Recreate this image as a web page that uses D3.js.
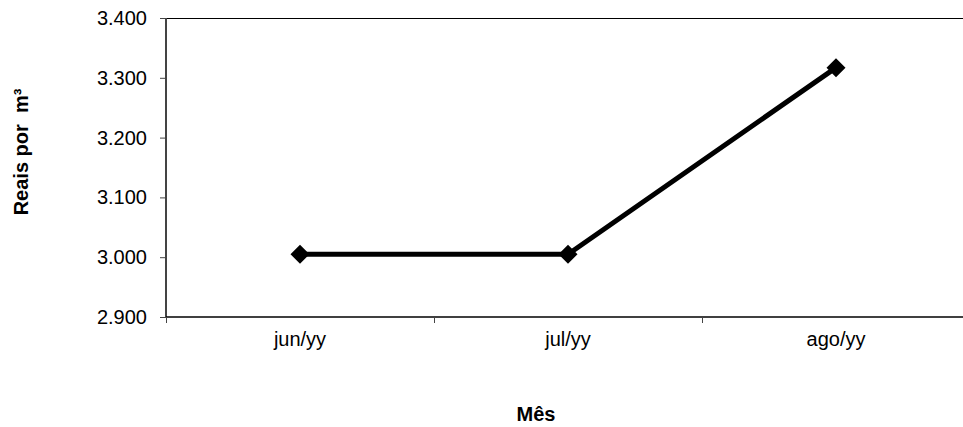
<!DOCTYPE html>
<html>
<head>
<meta charset="utf-8">
<script src="https://cdn.jsdelivr.net/npm/d3@7"></script>
<style>
  html, body { margin: 0; padding: 0; background: #fff; }
  svg { display: block; font-family: "Liberation Sans", Arial, sans-serif; }
</style>
</head>
<body>
<svg id="chart" width="963" height="427"></svg>
<script>
// Monthly price per cubic metre
const months = ["jun/yy", "jul/yy", "ago/yy"];
const prices = [3.005, 3.005, 3.317];
const yTicks = [2.9, 3.0, 3.1, 3.2, 3.3, 3.4];

const svg = d3.select("#chart");
const plot = { left: 166, top: 18, right: 970, bottom: 317 };
const FONT = "Liberation Sans, Arial, sans-serif";

const x = d3.scaleBand().domain(months).range([plot.left, plot.right]).padding(0);
const y = d3.scaleLinear().domain([2.9, 3.4]).range([plot.bottom, plot.top]);

const fmt = d3.format(".3f");

// top frame line
svg.append("line")
  .attr("x1", plot.left).attr("x2", plot.right)
  .attr("y1", plot.top + 0.5).attr("y2", plot.top + 0.5)
  .attr("stroke", "#000").attr("stroke-width", 1);

// y axis
const yAxis = svg.append("g")
  .attr("transform", `translate(${plot.left},0)`)
  .call(d3.axisLeft(y).tickValues(yTicks).tickFormat(fmt).tickSize(6).tickPadding(13));
yAxis.select(".domain").attr("stroke", "#444").attr("stroke-width", 2)
  .attr("d", `M0,${plot.top}V${plot.bottom}`);
yAxis.selectAll(".tick line").attr("stroke", "#444");
yAxis.selectAll("text")
  .attr("font-size", 20).attr("fill", "#000").attr("font-family", FONT);

// x axis with ticks on category boundaries
const xAxis = svg.append("g")
  .attr("transform", `translate(0,${plot.bottom})`)
  .call(d3.axisBottom(x).tickSize(0).tickPadding(15));
xAxis.select(".domain").attr("stroke", "#000").attr("stroke-width", 1.5)
  .attr("d", `M${plot.left},0H${plot.right}`);
xAxis.selectAll("text")
  .attr("font-size", 20).attr("fill", "#000").attr("font-family", FONT);
xAxis.selectAll(".bound")
  .data(months)
  .enter().append("line")
  .attr("class", "bound")
  .attr("x1", d => x(d) + 0.5).attr("x2", d => x(d) + 0.5)
  .attr("y1", 0).attr("y2", 6)
  .attr("stroke", "#444");

// series line
const pts = months.map((m, i) => ({ m, v: prices[i] }));
svg.append("path")
  .datum(pts)
  .attr("fill", "none")
  .attr("stroke", "#000")
  .attr("stroke-width", 5)
  .attr("d", d3.line().x(d => x(d.m) + x.bandwidth() / 2).y(d => y(d.v)));

// diamond markers
svg.selectAll(".marker")
  .data(pts)
  .enter().append("path")
  .attr("class", "marker")
  .attr("transform", d => `translate(${x(d.m) + x.bandwidth() / 2},${y(d.v)})`)
  .attr("d", "M0,-9.5L9.5,0L0,9.5L-9.5,0Z")
  .attr("fill", "#000");

// axis titles
svg.append("text")
  .attr("x", 536).attr("y", 421)
  .attr("text-anchor", "middle")
  .attr("font-family", FONT)
  .attr("font-size", 20).attr("font-weight", "bold")
  .text("Mês");

svg.append("text")
  .attr("transform", "translate(28,152) rotate(-90)")
  .attr("text-anchor", "middle")
  .attr("font-family", FONT)
  .attr("font-size", 20).attr("font-weight", "bold")
  .style("white-space", "pre")
  .text("Reais por  m³");
</script>
</body>
</html>
